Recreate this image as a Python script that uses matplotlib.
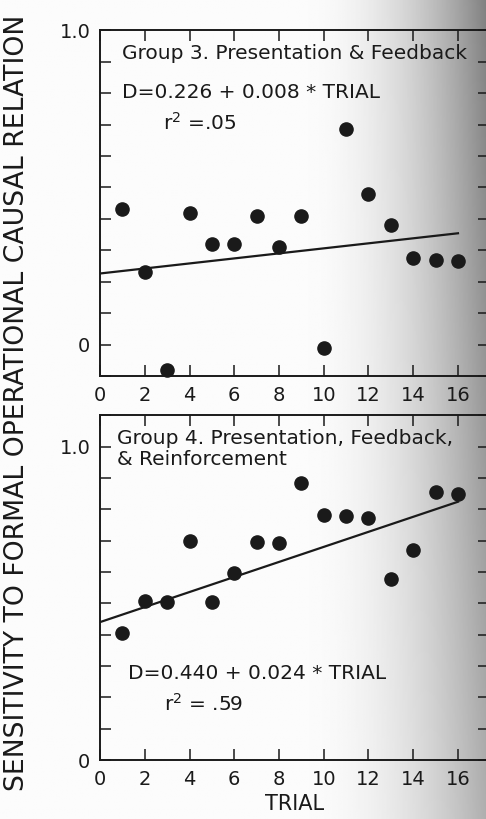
import numpy as np
import matplotlib
matplotlib.use("Agg")
import matplotlib.pyplot as plt

# values
trials = [1, 2, 3, 4, 5, 6, 7, 8, 9, 10, 11, 12, 13, 14, 15, 16]
group3_d = [0.43, 0.23, -0.08, 0.42, 0.32, 0.32, 0.41, 0.31, 0.41, -0.01,
            0.685, 0.48, 0.38, 0.275, 0.27, 0.265]
group4_d = [0.405, 0.506, 0.503, 0.70, 0.503, 0.598, 0.695, 0.693, 0.884,
            0.783, 0.780, 0.772, 0.579, 0.670, 0.855, 0.850]

group3_fit = (0.226, 0.008)
group4_fit = (0.440, 0.024)

xticks = [0, 2, 4, 6, 8, 10, 12, 14, 16]

plt.rcParams["font.family"] = ["DejaVu Sans"]
INK = "#1a1a1a"

fig = plt.figure(figsize=(4.86, 8.19), dpi=100)

# page shading of the scan (darker toward the binding on the right)
bg = fig.add_axes([0, 0, 1, 1], zorder=-5)
gx = np.linspace(0, 1, 300)
gy = np.linspace(1, 0, 300)
GX, GY = np.meshgrid(gx, gy)
ramp = np.clip((GX - 0.62) / 0.38, 0, 1) ** 2
shade = 0.985 - ramp * (0.30 + 0.18 * GY)
bg.imshow(shade, cmap="gray", vmin=0, vmax=1, extent=[0, 1, 0, 1],
          aspect="auto", origin="upper")
bg.axis("off")


def panel(rect, y, fit, ylim):
    ax = fig.add_axes(rect)
    ax.patch.set_alpha(0)
    ax.scatter(trials, y, s=90, color=INK, zorder=3, clip_on=False)
    xs = np.array([0, 16])
    ax.plot(xs, fit[0] + fit[1] * xs, color=INK, lw=1.6)
    ax.set_xlim(0, 17.4)
    ax.set_ylim(*ylim)
    ax.set_xticks(xticks)
    ax.set_xticklabels([str(t) for t in xticks])
    ax.set_yticks(np.round(np.arange(ylim[0], ylim[1] + 0.001, 0.1), 2))
    ax.set_yticklabels(["1.0" if abs(v - 1) < 1e-6 else "0" if abs(v) < 1e-6 else ""
                        for v in ax.get_yticks()])
    ax.tick_params(direction="in", length=8, width=1.1, top=True, right=True,
                   labelsize=14, colors=INK, pad=7)
    for s in ax.spines.values():
        s.set_linewidth(1.4)
        s.set_color(INK)
    return ax


ax1 = panel([0.2058, 0.541, 0.801, 0.422], group3_d, group3_fit, (-0.1, 1.0))
ax2 = panel([0.2058, 0.072, 0.801, 0.421], group4_d, group4_fit, (0.0, 1.1))

ax1.text(1.0, 0.927, "Group 3. Presentation & Feedback", fontsize=14.5,
         va="center", color=INK)
ax1.text(1.0, 0.803, "D=0.226 + 0.008 * TRIAL", fontsize=14.5,
         va="center", color=INK)
ax1.text(2.8, 0.705, "r$^2$ =.05", fontsize=14.5, va="center", color=INK)

ax2.text(0.75, 1.025, "Group 4. Presentation, Feedback,", fontsize=14.5,
         va="center", color=INK)
ax2.text(0.75, 0.96, "& Reinforcement", fontsize=14.5, va="center", color=INK)
ax2.text(1.25, 0.276, "D=0.440 + 0.024 * TRIAL", fontsize=14.5,
         va="center", color=INK)
ax2.text(2.85, 0.18, "r$^2$ = .59", fontsize=14.5, va="center", color=INK)

ax2.set_xlabel("TRIAL", fontsize=15, color=INK, labelpad=4)

fig.text(0.036, 0.508, "SENSITIVITY TO FORMAL OPERATIONAL CAUSAL RELATION",
         rotation=90, fontsize=19.2, ha="center", va="center", color=INK)

fig.savefig("out.png", dpi=100)
